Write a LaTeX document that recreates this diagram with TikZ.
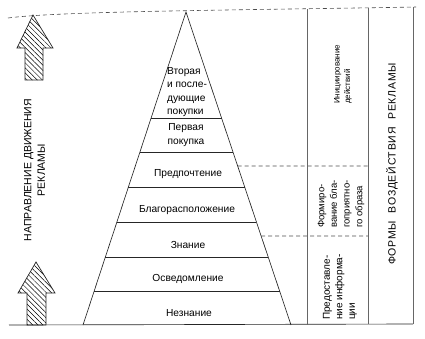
\documentclass[tikz,border=0pt]{standalone}
\usepackage{fontspec}
\setmainfont{Liberation Sans}
\usetikzlibrary{patterns.meta,calc}
\begin{document}
\begin{tikzpicture}[x=1pt,y=-1pt,
  line/.style={line width=0.65pt, black!85},
  dashline/.style={line width=0.6pt, black!70, dash pattern=on 4pt off 3pt},
  lbl/.style={font=\fontsize{10.2}{13.5}\selectfont, inner sep=0pt},
  vlbl/.style={rotate=90, inner sep=0pt, align=left, anchor=west},
  hatcharrow/.style={line width=0.7pt, black!85, pattern={Lines[angle=-45,distance=3.6pt,line width=0.5pt]}}]
\useasboundingbox (0,0) rectangle (425,338);
% pyramid corners
\coordinate (apex) at (186,12);
\coordinate (bl) at (83,325);
\coordinate (br) at (291,325);
\draw[line] (bl) -- (apex) -- (br);
% band lines
\foreach \p [count=\i] in {0.3387,0.4473,0.5591,0.6709,0.7827,0.8914}{
  \coordinate (L\i) at ($(apex)!\p!(bl)$);
  \coordinate (R\i) at ($(apex)!\p!(br)$);
  \draw[line] (L\i) -- (R\i);
}
% dashed level dividers
\coordinate (D1) at ($(apex)!0.4920!(br)$);
\coordinate (D2) at ($(apex)!0.7157!(br)$);
\coordinate (E1) at (368,166);
\coordinate (E2) at (368,236);
\draw[dashline] (D1) -- (E1);
\draw[dashline] (D2) -- (E2);
% top dashed curve
\coordinate (ts) at (8,18);
\coordinate (te) at (416,7);
\draw[dashline] (ts) .. controls (60,11) and (250,10) .. (te);
% base line
\coordinate (b0) at (9,325);
\coordinate (b1) at (413,324);
\draw[line] (b0) -- (b1);
% column lines
\coordinate (c1t) at (307,9);   \coordinate (c1b) at (307,325);
\coordinate (c2t) at (368,8);   \coordinate (c2b) at (368,324);
\coordinate (c3t) at (413,7);   \coordinate (c3b) at (413,324);
\draw[line, black!60] (c1t) -- (c1b);
\draw[line, black!60] (c2t) -- (c2b);
\draw[line, black!60] (c3t) -- (c3b);
% hatched arrows
\draw[hatcharrow] (25,80) -- (25,48) -- (17,48) -- (33,15) -- (53,48) -- (43,48) -- (43,80) -- cycle;
\draw[hatcharrow] (27,325) -- (27,293) -- (18,293) -- (36,262) -- (55,293) -- (46,293) -- (46,325) -- cycle;
% pyramid labels
\node[lbl, align=left] (t1) at (187,92) {Вторая\\и после-\\дующие\\покупки};
\node[lbl, align=center] (t2) at (186,135) {Первая\\покупка};
\node[lbl] (t3) at (188,174) {Предпочтение};
\node[lbl] (t4) at (187,210) {Благорасположение};
\node[lbl] (t5) at (188,245) {Знание};
\node[lbl] (t6) at (188,279) {Осведомление};
\node[lbl] (t7) at (189,313) {Незнание};
% column labels
\node[vlbl, font=\fontsize{8}{10.5}\selectfont] (k1) at (343,104) {Инициирование\\действий};
\node[vlbl, font=\fontsize{9.5}{12.7}\selectfont] (k2) at (341,228) {Формиро-\\вание бла-\\гоприятно-\\го образа};
\node[vlbl, font=\fontsize{10}{12.5}\selectfont] (k3) at (340,320) {Предоставле-\\ние информа-\\ции};
\node[rotate=90, inner sep=0pt, font=\fontsize{10.5}{12}\selectfont\addfontfeature{LetterSpace=7}] (k4) at (392,164) {ФОРМЫ\hspace{4pt} ВОЗДЕЙСТВИЯ\hspace{4pt} РЕКЛАМЫ};
% left label
\node[rotate=90, inner sep=0pt, align=center, font=\fontsize{10.5}{13.5}\selectfont] (dir) at (34.5,170) {НАПРАВЛЕНИЕ ДВИЖЕНИЯ\\РЕКЛАМЫ};
\end{tikzpicture}
\end{document}
